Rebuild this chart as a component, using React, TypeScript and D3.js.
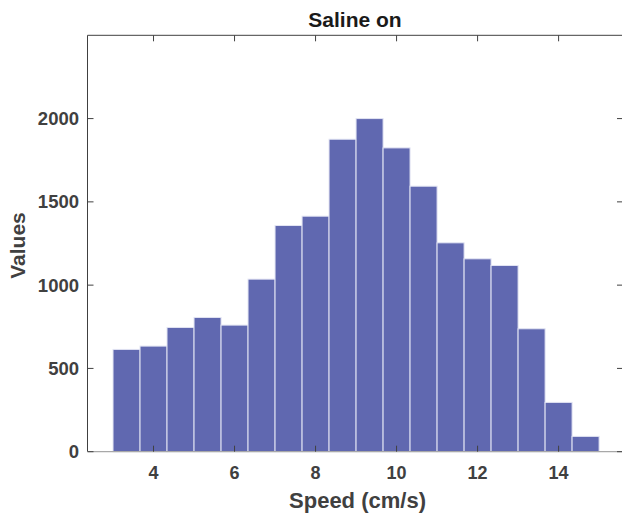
import React from "react";
import * as d3 from "d3";

// histogram bin edges (cm/s) and counts per bin
const binEdges = [3, 3.667, 4.333, 5, 5.667, 6.333, 7, 7.667, 8.333, 9, 9.667, 10.333, 11, 11.667, 12.333, 13, 13.667, 14.333, 15];
const counts = [614, 634, 746, 806, 760, 1036, 1358, 1414, 1876, 2000, 1824, 1594, 1254, 1158, 1118, 738, 296, 92];
const xTicks = [4, 6, 8, 10, 12, 14];
const yTicks = [0, 500, 1000, 1500, 2000];

const width = 622;
const height = 519;

const App = () => {
  const x = d3.scaleLinear().domain([2.37, 15.59]).range([87.5, 623]);
  const y = d3.scaleLinear().domain([0, 2500]).range([451.7, 35.3]);

  const bins = counts.map((c, i) => ({ x0: binEdges[i], x1: binEdges[i + 1], c }));

  const axisColor = "#404040";
  const font = "'Liberation Sans', Arial, Helvetica, sans-serif";
  const [x0, x1] = x.range();
  const [yb, yt] = y.range();
  const tl = 6;

  return (
    <svg
      width={width}
      height={height}
      style={{ position: "fixed", left: 0, top: 0, background: "#fff" }}
      fontFamily={font}
    >
      <rect x={0} y={0} width={width} height={height} fill="#fff" />

      {/* bars */}
      <g fill="#6068b0" stroke="#e2e4f3" strokeWidth={1}>
        {bins.map((b, i) => (
          <rect
            key={i}
            x={x(b.x0)}
            y={y(b.c)}
            width={x(b.x1) - x(b.x0)}
            height={y(0) - y(b.c)}
          />
        ))}
      </g>

      {/* axes box */}
      <line x1={x0} x2={x1} y1={yt} y2={yt} stroke={axisColor} strokeWidth={1} />
      <line x1={x0} x2={x0} y1={yt} y2={yb} stroke={axisColor} strokeWidth={1} />
      <line x1={x1} x2={x1} y1={yt} y2={yb} stroke={axisColor} strokeWidth={1} />
      <line x1={x0} x2={x1} y1={yb} y2={yb} stroke="#a8a8a8" strokeWidth={1.2} />

      {/* x ticks */}
      {xTicks.map((t) => (
        <g key={"x" + t}>
          <line x1={x(t)} x2={x(t)} y1={yb} y2={yb - tl} stroke={axisColor} />
          <line x1={x(t)} x2={x(t)} y1={yt} y2={yt + tl} stroke={axisColor} />
          <text
            x={x(t)}
            y={479}
            textAnchor="middle"
            fontSize={18}
            fontWeight="bold"
            fill={axisColor}
          >
            {t}
          </text>
        </g>
      ))}

      {/* y ticks */}
      {yTicks.map((t) => (
        <g key={"y" + t}>
          <line x1={x0} x2={x0 + tl} y1={y(t)} y2={y(t)} stroke={axisColor} />
          <line x1={x1} x2={x1 - tl} y1={y(t)} y2={y(t)} stroke={axisColor} />
          <text
            x={79}
            y={y(t)}
            dy="0.35em"
            textAnchor="end"
            fontSize={18.5}
            fontWeight="bold"
            fill={axisColor}
          >
            {t}
          </text>
        </g>
      ))}

      {/* title and labels */}
      <text x={355} y={27} textAnchor="middle" fontSize={21} fontWeight="bold" fill="#1a1a1a">
        Saline on
      </text>
      <text x={357.5} y={508} textAnchor="middle" fontSize={22} fontWeight="bold" fill={axisColor}>
        Speed (cm/s)
      </text>
      <text
        transform={`translate(25,245.5) rotate(-90)`}
        textAnchor="middle"
        fontSize={21}
        fontWeight="bold"
        fill={axisColor}
      >
        Values
      </text>
    </svg>
  );
};

export default App;
